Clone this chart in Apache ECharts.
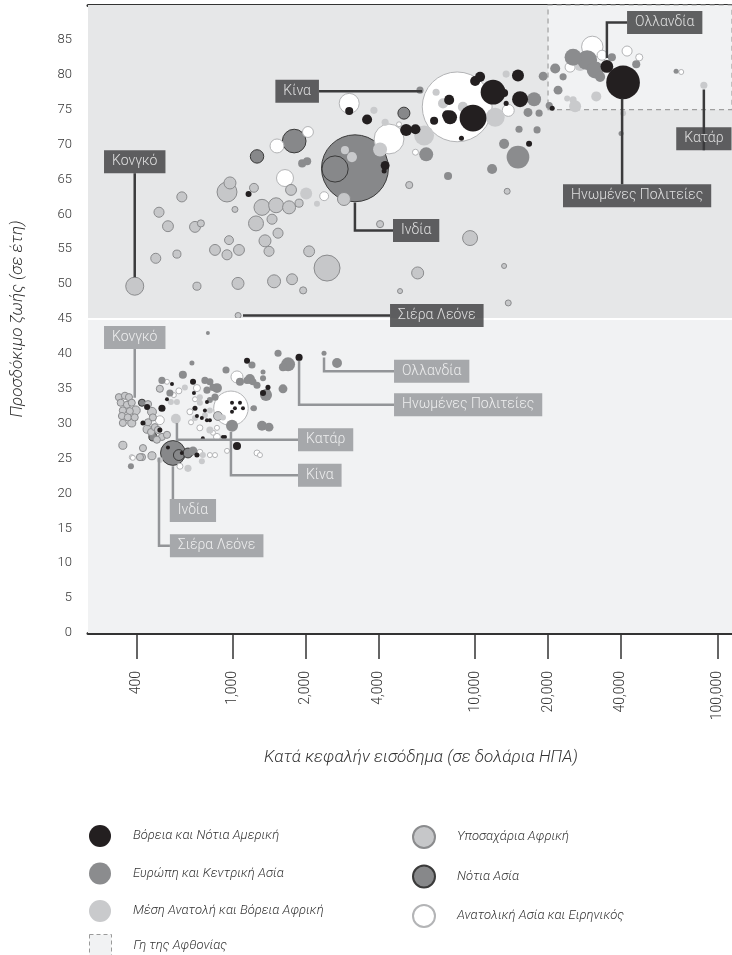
<!DOCTYPE html>
<html><head><meta charset="utf-8">
<script src="https://cdn.jsdelivr.net/npm/echarts@6/dist/echarts.min.js"></script>
<style>html,body{margin:0;padding:0;background:#fff}#c{width:732px;height:955px}</style>
</head><body><div id="c"></div>
<script>
// ---- data: [income USD, life expectancy, population (millions)] ----
const regionNames = ['Βόρεια και Νότια Αμερική','Ευρώπη και Κεντρική Ασία','Μέση Ανατολή και Βόρεια Αφρική','Υποσαχάρια Αφρική','Νότια Ασία','Ανατολική Ασία και Ειρηνικός'];
const plentyName = 'Γη της Αφθονίας';
const xTicks = [400,1000,2000,4000,10000,20000,40000,100000];
const yTicks = [0,5,10,15,20,25,30,35,40,45,50,55,60,65,70,75,80,85];

const amer2012 = [[1160,62.9,10],[3020,74.8,18],[3580,73.6,28],[4250,67.0,22],[4210,66.2,7],[5190,72.1,40],[5670,72.2,28],[6770,73.4,18],[7810,76.4,28],[7660,74.2,28],[7880,73.9,54],[9800,73.8,199],[10000,79.1,28],[10480,79.7,28],[11860,77.5,170],[13170,77.4,18],[13430,75.9,7],[15030,79.9,40],[15330,76.5,71],[16700,70.1,10],[20810,75.2,7],[35000,81.2,45],[40820,78.9,314],[8780,70.9,7]];
const eur2012 = [[1931,67.3,18],[2025,67.6,18],[5920,77.8,14],[6280,68.6,54],[7730,65.5,18],[11750,66.5,28],[13170,70.1,28],[15030,68.2,143],[15180,72.2,14],[18020,72.1,14],[17520,76.5,54],[19100,79.8,22],[16530,74.6,22],[18370,74.5,14],[20230,75.6,14],[21410,80.9,28],[22000,77.8,22],[23080,79.7,14],[25380,82.5,80],[29010,82.1,110],[31340,80.7,80],[32820,79.7,28],[36700,82.5,18],[46270,81.5,18],[40050,71.6,7],[67600,80.5,7]];
const mena2012 = [[2006,63.0,40],[2223,61.5,10],[4050,69.3,54],[4250,73.2,14],[3820,74.9,14],[6155,71.3,110],[6900,77.5,14],[7370,75.9,28],[8900,75.4,28],[12100,73.9,100],[13430,80.1,14],[23990,76.6,10],[25380,76.4,14],[26630,81.8,22],[27130,81.4,40],[25870,75.5,40],[31640,76.9,28],[40820,74.5,10],[88000,78.5,14],[2900,69.2,18],[3100,68.2,28]];
const ssa2012 = [[393,49.7,90],[495,60.3,28],[615,62.5,28],[539,58.3,33],[480,53.7,28],[587,54.3,18],[697,58.2,33],[737,58.7,14],[710,49.7,18],[945,63.2,110],[972,64.5,40],[1019,60.7,10],[963,56.3,22],[843,54.9,33],[945,54.2,28],[1059,54.9,33],[1049,50.1,40],[1221,63.8,22],[1245,58.7,62],[1318,61.0,71],[1450,59.3,28],[1507,61.3,62],[1705,61.0,47],[1875,61.6,18],[1737,63.5,33],[1535,57.3,28],[1356,56.2,40],[1409,54.7,28],[1478,50.4,47],[1754,50.7,33],[1949,49.1,14],[2063,54.7,33],[2446,52.3,187],[2874,62.2,47],[4050,58.6,14],[5344,64.2,14],[9530,56.6,62],[5790,51.6,40],[13560,63.3,10],[13170,52.6,7],[13700,47.3,10],[4897,49.0,7],[1050,45.5,10]];
const sasia2012 = [[1790,70.5,155],[1257,68.3,50],[2640,66.5,190],[3190,66.6,1240],[5080,74.5,40]];
const easia2012 = [[3020,75.9,111],[2040,71.8,33],[1520,69.8,54],[1640,65.2,80],[2380,62.6,22],[4410,70.8,247],[5670,68.9,10],[8430,75.4,1350],[13700,74.9,40],[24670,81.1,28],[30460,84.0,127],[33440,82.8,28],[42410,83.4,28],[47600,82.5,14],[70960,80.4,7],[4850,72.9,7]];

const amer1800 = [[1875,39.5,14],[1143,39.0,10],[1395,35.2,7],[1331,34.4,10],[1039,26.8,18],[927,28.1,4],[560,35.7,4],[534,33.5,4],[684,36.0,10],[690,34.4,4],[697,32.2,7],[710,31.1,4],[744,30.8,4],[766,31.9,4],[781,30.5,4],[803,30.5,4],[909,28.1,4],[751,27.9,4],[781,33.1,4],[991,33.0,4],[1069,33.0,4],[1019,32.2,4],[1100,32.2,4],[991,31.7,4],[539,26.6,4],[615,25.8,4],[710,25.5,7],[442,32.4,10],[509,32.2,14],[425,30.1,7],[499,29.1,7]];
const eur1800 = [[677,38.7,7],[621,37.0,18],[509,36.2,14],[549,34.4,14],[766,36.2,14],[803,36.0,14],[781,34.8,14],[827,35.2,14],[859,35.1,27],[843,33.8,14],[803,33.4,10],[936,37.7,14],[1198,38.4,14],[1069,36.0,18],[1143,36.2,14],[1175,36.4,27],[1209,36.0,14],[1221,32.2,10],[1535,40.1,14],[1689,38.5,54],[1609,38.1,18],[2377,40.1,7],[2690,38.7,27],[1331,37.4,7],[1331,36.5,10],[1257,35.5,14],[1382,34.5,14],[1369,34.1,40],[1609,35.0,22],[1209,32.2,7],[1318,29.7,27],[1409,29.5,22],[991,29.7,40],[788,43.0,4],[379,23.9,10],[684,26.1,22]];
const mena1800 = [[581,30.7,27],[909,30.9,10],[751,25.5,10],[744,24.6,10],[652,23.6,14],[499,24.8,10],[554,33.1,10],[587,33.1,10],[633,35.2,10],[730,33.0,10],[697,30.8,10],[766,31.2,10],[803,31.9,10],[803,29.1,14],[730,33.8,10]];
const ssa1800 = [[338,33.8,14],[358,34.0,14],[372,33.8,14],[344,33.0,14],[365,32.7,14],[382,33.0,14],[351,31.9,14],[375,31.8,14],[397,31.9,22],[348,31.1,14],[368,30.9,14],[393,30.9,14],[351,30.1,14],[382,30.1,18],[446,32.8,14],[463,31.7,22],[446,30.2,14],[467,30.9,14],[442,29.2,18],[459,28.8,14],[476,29.5,14],[490,29.1,14],[509,28.1,14],[534,28.4,14],[485,27.7,14],[351,26.9,18],[425,26.5,14],[421,25.2,14],[463,25.4,18],[413,25.2,14],[499,35.0,14],[867,31.1,22]];
const sasia1800 = [[565,25.8,170],[598,25.5,33],[652,25.8,27],[421,33.0,14],[467,28.1,18]];
const easia1800 = [[981,32.2,330],[534,36.0,7],[598,34.7,10],[570,34.1,7],[710,35.1,14],[697,33.5,7],[664,31.7,10],[671,30.2,7],[730,29.4,10],[827,28.7,7],[859,29.4,7],[859,28.1,14],[1039,36.7,40],[382,25.2,7],[730,25.9,10],[803,25.5,7],[843,25.5,7],[604,23.9,10],[1257,25.8,10],[945,26.1,7],[1293,25.5,7],[386,25.1,7],[499,30.5,22]];

// annotations: leader path and label anchor, in data units
const notes2012 = [
  {name:'Κίνα', path:[[2265,77.65],[6040,77.65]], at:[2265,77.65], pos:'left'},
  {name:'Κονγκό', path:[[393,65.9],[393,51.0]], at:[393,65.9], pos:'top'},
  {name:'Ινδία', path:[[4580,57.7],[3189,57.7],[3189,61.7]], at:[4580,57.7], pos:'right'},
  {name:'Σιέρα Λεόνε', path:[[4453,45.5],[1100,45.5]], at:[4453,45.5], pos:'right'},
  {name:'Ολλανδία', path:[[42400,87.5],[35000,87.5],[35000,82.4]], at:[42400,87.5], pos:'right'},
  {name:'Ηνωμένες Πολιτείες', path:[[40450,64.3],[40450,76.6]], at:[40450,64.3], pos:'bottom', dx:15},
  {name:'Κατάρ', path:[[88000,69.2],[88000,77.9]], at:[88000,69.2], pos:'top'}
];
const notes1800 = [
  {name:'Κονγκό', path:[[393,40.7],[393,33.7]], at:[393,40.7], pos:'top'},
  {name:'Ολλανδία', path:[[4625,37.5],[2377,37.5],[2377,39.5]], at:[4625,37.5], pos:'right'},
  {name:'Ηνωμένες Πολιτείες', path:[[4625,32.7],[1875,32.7],[1875,39.0]], at:[4625,32.7], pos:'right'},
  {name:'Κατάρ', path:[[1856,27.7],[587,27.7],[587,30.1]], at:[1856,27.7], pos:'right'},
  {name:'Κίνα', path:[[1856,22.6],[981,22.6],[981,28.8]], at:[1856,22.6], pos:'right'},
  {name:'Ινδία', path:[[565,19.2],[565,23.9]], at:[565,19.2], pos:'bottom', dx:20},
  {name:'Σιέρα Λεόνε', path:[[549,12.5],[495,12.5],[495,25.1]], at:[549,12.5], pos:'right'}
];

const FONT = 'Roboto, "Noto Sans", sans-serif';
const DARK = '#3b3b3c', MID = '#939598';

const styles = [
  {color:'#231f20', opacity:1},
  {color:'#8b8c8e', opacity:1},
  {color:'#c9cacc', opacity:1},
  {color:'#c6c7c9', borderColor:'#8a8b8d', borderWidth:1, opacity:1},
  {color:'#87888a', borderColor:'#3a3a3a', borderWidth:1, opacity:1},
  {color:'#ffffff', borderColor:'#b3b4b6', borderWidth:1, opacity:1}
];
const dataSets = [amer2012.concat(amer1800), eur2012.concat(eur1800), mena2012.concat(mena1800), ssa2012.concat(ssa1800), sasia2012.concat(sasia1800), easia2012.concat(easia1800)];
const drawOrder = [4,5,3,2,1,0];

const size = d => Math.max(4, 1.9*Math.sqrt(d[2]));
const bubbleSeries = drawOrder.map(i => ({
  type:'scatter', name:regionNames[i], xAxisIndex:0, yAxisIndex:0, z:3,
  data: dataSets[i].slice().sort((a,b)=>b[2]-a[2]),
  symbolSize: size, itemStyle: styles[i], emphasis:{disabled:true}, silent:true
}));

function noteSeries(notes, color){
  return [{
    type:'lines', coordinateSystem:'cartesian2d', polyline:true, z:4, silent:true,
    lineStyle:{color:color, width:2.5, opacity:1},
    data: notes.map(n=>({coords:n.path}))
  },{
    type:'scatter', z:5, silent:true, symbolSize:0,
    data: notes.map(n=>({value:n.at, name:n.name, label:{position:n.pos, offset:[n.dx||0,0]}})),
    label:{show:true, formatter:p=>p.name, distance:0, color:'#fff', backgroundColor:color,
      fontFamily:FONT, fontSize:14, fontWeight:300, padding:[4,8,4,8], lineHeight:15}
  }];
}

const plentyStyle = {color:'#f1f2f3', borderColor:'#9a9a9a', borderType:[4,3], borderWidth:1, opacity:1};
const bgSeries = {
  type:'scatter', name:plentyName, data:[], z:1,
  itemStyle:plentyStyle,
  markArea:{silent:true, data:[
    [{yAxis:45, itemStyle:{color:'#e6e7e8', borderWidth:0}},{yAxis:90}],
    [{yAxis:0, itemStyle:{color:'#f1f2f3', borderWidth:0}},{yAxis:45}],
    [{xAxis:20000, yAxis:75, itemStyle:{color:'#f1f2f3', borderColor:'#a0a0a0', borderType:[5,4], borderWidth:1.2}},{xAxis:115000, yAxis:90}]
  ]},
  markLine:{silent:true, symbol:'none', label:{show:false}, lineStyle:{color:'#ffffff', width:2, type:'solid'},
    data:[{yAxis:45}]}
};

const legendText = {fontFamily:FONT, fontStyle:'italic', fontSize:13, color:'#333', fontWeight:300, padding:[0,0,0,17]};
const legendBase = {orient:'vertical', itemWidth:22, itemHeight:22, itemGap:15.5, icon:'circle', selectedMode:false, padding:0, textStyle:legendText};

const chart = echarts.init(document.getElementById('c'));
chart.setOption({
  animation:false,
  backgroundColor:'#ffffff',
  textStyle:{fontFamily:FONT},
  grid:{left:88, right:0, top:5, bottom:322, containLabel:false, outerBoundsMode:'none'},
  xAxis:[{
    type:'log', logBase:10, min:252, max:115000, position:'bottom',
    name:'Κατά κεφαλήν εισόδημα (σε δολάρια ΗΠΑ)', nameLocation:'middle', nameGap:116,
    nameTextStyle:{fontFamily:FONT, fontStyle:'italic', fontSize:17, color:'#333', fontWeight:300, padding:[0,0,0,22]},
    axisLine:{show:true, onZero:false, lineStyle:{color:'#333', width:3}},
    axisTick:{show:true, length:26, lineStyle:{color:'#333', width:1.5}, customValues:xTicks},
    axisLabel:{show:true, customValues:xTicks, rotate:90, margin:38, fontSize:14, color:'#333', fontWeight:300,
      formatter:v=>Number(v).toLocaleString('en-US')},
    splitLine:{show:false}, minorTick:{show:false}, minorSplitLine:{show:false}
  },{
    type:'log', logBase:10, min:252, max:115000, position:'top',
    axisLine:{show:true, onZero:false, lineStyle:{color:'#333', width:3}},
    axisTick:{show:false}, axisLabel:{show:false}, splitLine:{show:false}
  }],
  yAxis:{
    type:'value', min:0, max:90, interval:5,
    name:'Προσδόκιμο ζωής (σε έτη)', nameLocation:'middle', nameGap:62,
    nameTextStyle:{fontFamily:FONT, fontStyle:'italic', fontSize:17, color:'#333', fontWeight:300},
    axisLine:{show:false}, axisTick:{show:false}, splitLine:{show:false},
    axisLabel:{margin:16, fontSize:13, color:'#333', fontWeight:300, showMaxLabel:false,
      formatter:v=>yTicks.indexOf(v)>=0?String(v):''}
  },
  legend:[
    Object.assign({}, legendBase, {left:89, top:825, data:[regionNames[0], regionNames[1], regionNames[2]]}),
    Object.assign({}, legendBase, {left:412, top:825, data:[regionNames[3], regionNames[4], regionNames[5]]}),
    Object.assign({}, legendBase, {left:89, top:934, data:[{name:plentyName, icon:'rect', itemStyle:plentyStyle}]})
  ],
  graphic:[
    {type:'group', left:88, top:5, z:10, children:[
      {type:'rect', shape:{x:0,y:0,width:80,height:45}, style:{fill:DARK}},
      {type:'text', x:40, y:23, style:{text:'2012', fill:'#fff', font:'300 17px '+FONT, align:'center', verticalAlign:'middle'}}
    ]},
    {type:'group', right:0, top:319, z:10, children:[
      {type:'rect', shape:{x:0,y:0,width:74,height:45}, style:{fill:MID}},
      {type:'text', x:37, y:23, style:{text:'1800', fill:'#fff', font:'300 17px '+FONT, align:'center', verticalAlign:'middle'}}
    ]}
  ],
  series:[bgSeries].concat(bubbleSeries, noteSeries(notes2012, DARK), noteSeries(notes1800, MID))
});
</script></body></html>
